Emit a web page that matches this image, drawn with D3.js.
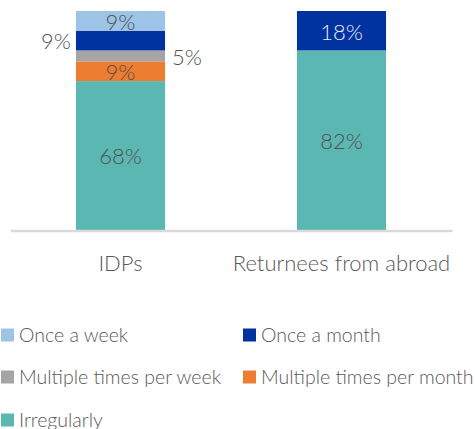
<!DOCTYPE html>
<html>
<head>
<meta charset="utf-8">
<script src="https://cdn.jsdelivr.net/npm/d3@7"></script>
<style>
  html, body { margin: 0; padding: 0; background: #fff; }
  svg { display: block; font-family: Lato, "Open Sans", sans-serif; font-weight: 300; }
</style>
</head>
<body>
<svg id="chart" width="475" height="429"></svg>
<script>
// ---- data ----
const categories = ["IDPs", "Returnees from abroad"];
const seriesNames = ["Irregularly", "Multiple times per month", "Multiple times per week", "Once a month", "Once a week"];
const irregularly = [68, 82];
const multiplePerMonth = [9, 0];
const multiplePerWeek = [5, 0];
const onceAMonth = [9, 18];
const onceAWeek = [9, 0];
const legendOrder = ["Once a week", "Once a month", "Multiple times per week", "Multiple times per month", "Irregularly"];

// ---- styles ----
const colors = {
  "Irregularly": "#5BB7B2",
  "Multiple times per month": "#ED7D31",
  "Multiple times per week": "#A5A5A5",
  "Once a month": "#0033A0",
  "Once a week": "#9DC3E6"
};
// label placement for specific segments ("inside" by default)
const labelSide = { "IDPs|Once a month": "left", "IDPs|Multiple times per week": "right" };
const labelColor = { "Returnees from abroad|Once a month": "#E8ECF5" };

const values = [irregularly, multiplePerMonth, multiplePerWeek, onceAMonth, onceAWeek];
const table = categories.map((c, i) => {
  const row = { category: c };
  seriesNames.forEach((s, j) => row[s] = values[j][i]);
  return row;
});

const svg = d3.select("#chart");
const x = d3.scaleBand().domain(categories).range([10, 452]).paddingInner(0.597).paddingOuter(0.2985);
const y = d3.scaleLinear().domain([0, 100]).range([230, 11]);

const stacked = d3.stack().keys(seriesNames)(table);

const g = svg.append("g");
stacked.forEach(layer => {
  const key = layer.key;
  layer.forEach(d => {
    if (d[1] - d[0] <= 0) return;
    const cat = d.data.category;
    g.append("rect")
      .attr("x", x(cat))
      .attr("y", y(d[1]))
      .attr("width", x.bandwidth())
      .attr("height", y(d[0]) - y(d[1]))
      .attr("fill", colors[key]);
  });
});

// labels
stacked.forEach(layer => {
  const key = layer.key;
  layer.forEach(d => {
    const v = d[1] - d[0];
    if (v <= 0) return;
    const cat = d.data.category;
    const side = labelSide[cat + "|" + key] || "inside";
    const cy = (y(d[0]) + y(d[1])) / 2 + 1;
    let tx = x(cat) + x.bandwidth() / 2, anchor = "middle";
    if (side === "left") { tx = x(cat) - 5; anchor = "end"; }
    if (side === "right") { tx = x(cat) + x.bandwidth() + 7; anchor = "start"; }
    g.append("text")
      .attr("x", tx)
      .attr("y", cy)
      .attr("dy", "0.36em")
      .attr("text-anchor", anchor)
      .attr("font-size", 22)
      .attr("fill", labelColor[cat + "|" + key] || "#505050")
      .text(v + "%");
  });
});

// axis
const xAxis = d3.axisBottom(x).tickSize(0).tickPadding(25);
const ax = svg.append("g").attr("transform", "translate(0,230.5)").call(xAxis);
ax.select(".domain").attr("stroke", "#D9D9D9").attr("stroke-width", 2.5);
ax.selectAll("text").attr("font-size", 22).attr("fill", "#595959")
  .attr("font-family", "Lato, sans-serif").attr("font-weight", 300);

// legend
const legendCols = [1, 243];
const legendRows = [335, 377, 420];
const lg = svg.append("g");
legendOrder.forEach((name, i) => {
  const cx = legendCols[i % 2], cy = legendRows[Math.floor(i / 2)];
  lg.append("rect").attr("x", cx).attr("y", cy - 6.5).attr("width", 13).attr("height", 13).attr("fill", colors[name]);
  lg.append("text").attr("x", cx + 18).attr("y", cy).attr("dy", "0.36em")
    .attr("font-size", 19.5).attr("fill", "#595959").text(name);
});
</script>
</body>
</html>
